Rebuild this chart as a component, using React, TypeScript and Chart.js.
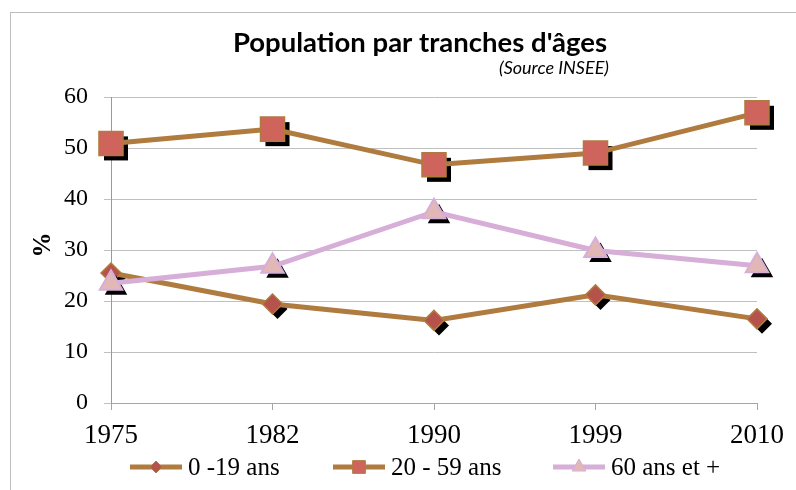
import React, { useEffect, useRef } from "react";
import { Chart, registerables } from "chart.js";

Chart.register(...registerables);

const categories = ["1975", "1982", "1990", "1999", "2010"];
const seriesNames = ["0 -19 ans", "20 - 59 ans", "60 ans et +"];
const young = [25.5, 19.4, 16.2, 21.2, 16.5];
const adults = [50.9, 53.7, 46.7, 49.0, 56.9];
const seniors = [23.5, 26.8, 37.5, 29.9, 26.9];
const yTicks = [0, 10, 20, 30, 40, 50, 60];
const titleText = "Population par tranches d'âges";
const subtitleText = "(Source INSEE)";
const yAxisTitle = "%";

const BROWN = "#b07b3f";
const LILAC = "#d6aed8";
const SERIF = "'Liberation Serif', 'DejaVu Serif', serif";
const SANS = "Lato, 'Open Sans', sans-serif";

function shapePath(ctx: CanvasRenderingContext2D, style: string, r: number, x: number, y: number) {
  ctx.beginPath();
  if (style === "rect") {
    const s = Math.SQRT1_2 * r;
    ctx.rect(x - s, y - s, 2 * s, 2 * s);
  } else if (style === "rectRot") {
    ctx.moveTo(x, y - r);
    ctx.lineTo(x + r, y);
    ctx.lineTo(x, y + r);
    ctx.lineTo(x - r, y);
    ctx.closePath();
  } else {
    ctx.moveTo(x, y - r);
    ctx.lineTo(x + 0.866 * r, y + 0.5 * r);
    ctx.lineTo(x - 0.866 * r, y + 0.5 * r);
    ctx.closePath();
  }
}

const shadowPlugin = {
  id: "markerShadow",
  beforeDatasetDraw(chart: any, args: any) {
    const ctx = chart.ctx as CanvasRenderingContext2D;
    const ds = chart.data.datasets[args.index];
    ctx.save();
    ctx.fillStyle = "#000";
    for (const pt of args.meta.data) {
      shapePath(ctx, ds.pointStyle, ds.pointRadius, pt.x + 5, pt.y + 5);
      ctx.fill();
    }
    ctx.restore();
  },
};

const decorPlugin = {
  id: "decor",
  afterDraw(chart: any) {
    const ctx = chart.ctx as CanvasRenderingContext2D;
    ctx.save();
    ctx.fillStyle = "#000";
    // title
    ctx.font = `bold 27.5px ${SANS}`;
    ctx.textAlign = "center";
    ctx.textBaseline = "middle";
    ctx.fillText(titleText, 420, 43);
    ctx.font = `italic 18px ${SANS}`;
    ctx.textAlign = "right";
    ctx.fillText(subtitleText, 609, 68);
    // y axis title
    ctx.save();
    ctx.translate(44, 245);
    ctx.rotate(-Math.PI / 2);
    ctx.textAlign = "center";
    ctx.font = `bold 25px ${SERIF}`;
    ctx.fillText(yAxisTitle, 0, 0);
    ctx.restore();
    // legend
    const starts = [130, 333, 553];
    const ly = 467;
    chart.data.datasets.forEach((ds: any, i: number) => {
      const x0 = starts[i];
      const x1 = x0 + 52;
      ctx.strokeStyle = ds.borderColor;
      ctx.lineWidth = 5;
      ctx.beginPath();
      ctx.moveTo(x0, ly);
      ctx.lineTo(x1, ly);
      ctx.stroke();
      const r = ds.pointStyle === "rect" ? 9 : ds.pointStyle === "rectRot" ? 6 : 8;
      shapePath(ctx, ds.pointStyle, r, (x0 + x1) / 2, ly);
      ctx.fillStyle = ds.pointBackgroundColor;
      ctx.fill();
      ctx.lineWidth = 1;
      ctx.strokeStyle = ds.pointBorderColor;
      ctx.stroke();
      ctx.fillStyle = "#000";
      ctx.font = `25px ${SERIF}`;
      ctx.textAlign = "left";
      ctx.textBaseline = "middle";
      ctx.fillText(ds.label, x1 + 6, ly + 1);
    });
    ctx.restore();
  },
};

export default function App() {
  const ref = useRef<HTMLCanvasElement>(null);
  useEffect(() => {
    if (!ref.current) return;
    const chart = new Chart(ref.current, {
      type: "line",
      data: {
        labels: categories,
        datasets: [
          {
            label: seriesNames[0],
            data: young,
            borderColor: BROWN,
            borderWidth: 5,
            pointStyle: "rectRot",
            pointRadius: 10,
            pointBackgroundColor: "#b5524b",
            pointBorderColor: BROWN,
            pointBorderWidth: 1.5,
            order: 3,
          },
          {
            label: seriesNames[1],
            data: adults,
            borderColor: BROWN,
            borderWidth: 5,
            pointStyle: "rect",
            pointRadius: 17,
            pointBackgroundColor: "#cf645c",
            pointBorderColor: BROWN,
            pointBorderWidth: 1.5,
            order: 2,
          },
          {
            label: seriesNames[2],
            data: seniors,
            borderColor: LILAC,
            borderWidth: 5,
            pointStyle: "triangle",
            pointRadius: 13,
            pointBackgroundColor: "#e2b8b6",
            pointBorderColor: LILAC,
            pointBorderWidth: 2,
            order: 1,
          },
        ] as any,
      },
      options: {
        responsive: false,
        animation: false,
        devicePixelRatio: 1,
        layout: { padding: { top: 97, right: 39, bottom: 0, left: 0 } },
        plugins: { legend: { display: false }, title: { display: false }, tooltip: { enabled: false } },
        elements: { line: { tension: 0 } },
        scales: {
          x: {
            offset: false,
            grid: { display: true, drawOnChartArea: false, drawTicks: true, tickLength: 7, color: "#a6a6a6" },
            border: { display: true, color: "#a6a6a6" },
            ticks: { color: "#000", font: { family: SERIF, size: 27 }, padding: 10, maxRotation: 0, autoSkip: false },
            afterFit: (s: any) => { s.height = 87; },
          },
          y: {
            min: 0,
            max: 60,
            afterBuildTicks: (s: any) => { s.ticks = yTicks.map((v) => ({ value: v })); },
            grid: { color: "#c0c0c0", tickLength: 7 },
            border: { display: true, color: "#9a9a9a" },
            ticks: { color: "#000", font: { family: SERIF, size: 24 }, padding: 16 },
            afterFit: (s: any) => { s.width = 111; },
          },
        },
      },
      plugins: [shadowPlugin, decorPlugin],
    } as any);
    return () => chart.destroy();
  }, []);
  return (
    <div style={{ position: "fixed", left: 0, top: 0, width: 796, height: 490, background: "#fff", overflow: "hidden" }}>
      <div style={{ position: "absolute", left: 10, top: 12, width: 800, height: 500, border: "1px solid #bdbdbd" }} />
      <canvas ref={ref} width={796} height={490} style={{ position: "absolute", left: 0, top: 0 }} />
    </div>
  );
}
